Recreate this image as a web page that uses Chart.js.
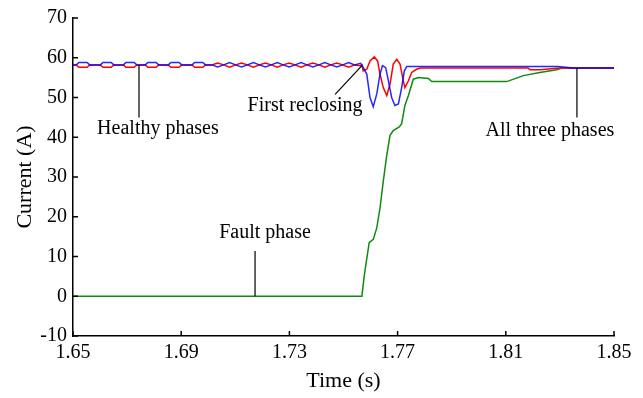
<!DOCTYPE html>
<html>
<head>
<meta charset="utf-8">
<script src="https://cdn.jsdelivr.net/npm/chart.js@4.4.0/dist/chart.umd.min.js"></script>
<style>
  html, body { margin: 0; padding: 0; background: #fff; }
  #wrap { width: 643px; height: 398px; }
</style>
</head>
<body>
<div id="wrap"><canvas id="myChart" width="643" height="398"></canvas></div>
<script>
// tick labels
const xTicks = [1.65, 1.69, 1.73, 1.77, 1.81, 1.85];
const yTicks = [-10, 0, 10, 20, 30, 40, 50, 60, 70];

// healthy phase B (blue)
const blueT = [1.650, 1.6512, 1.6522, 1.6552, 1.6562, 1.6601, 1.6611, 1.6641, 1.6651,
  1.6686, 1.6696, 1.6726, 1.6736, 1.6767, 1.6777, 1.6807, 1.6817, 1.6852, 1.6862, 1.6892, 1.6902,
  1.6940, 1.6950, 1.6980, 1.6990, 1.7013, 1.7035, 1.7057, 1.7079, 1.7101, 1.7123, 1.7145, 1.7167,
  1.7189, 1.7211, 1.7233, 1.7255, 1.7277, 1.7299, 1.7321, 1.7343, 1.7365, 1.7387, 1.7409, 1.7431,
  1.7453, 1.7475, 1.7497, 1.7519, 1.7541, 1.7563,
  1.7568, 1.7586, 1.7598, 1.7610, 1.7623, 1.7635, 1.7644, 1.7656, 1.7666, 1.7678, 1.7690, 1.7703,
  1.7715, 1.7725, 1.7734, 1.8293, 1.8349, 1.850];
const blueI = [58.2, 58.2, 58.8, 58.8, 58.2, 58.2, 58.8, 58.8, 58.2,
  58.2, 58.8, 58.8, 58.2, 58.2, 58.8, 58.8, 58.2, 58.2, 58.8, 58.8, 58.2,
  58.2, 58.8, 58.8, 58.2, 58.2, 57.7, 58.2, 58.8, 58.2, 57.7, 58.2, 58.8,
  58.2, 57.7, 58.2, 58.8, 58.2, 57.7, 58.2, 58.8, 58.2, 57.7, 58.2, 58.8,
  58.2, 57.7, 58.2, 58.8, 58.2, 58.6,
  58.2, 55.9, 50.0, 47.7, 50.9, 55.9, 58.0, 57.5, 54.2, 50.0, 48.0, 48.4,
  52.5, 56.7, 57.8, 57.8, 57.4, 57.4];

// healthy phase C (red)
const redT = [1.650, 1.6512, 1.6522, 1.6552, 1.6562, 1.6601, 1.6611, 1.6641, 1.6651,
  1.6686, 1.6696, 1.6726, 1.6736, 1.6767, 1.6777, 1.6807, 1.6817, 1.6852, 1.6862, 1.6892, 1.6902,
  1.6940, 1.6950, 1.6980, 1.6990, 1.7013, 1.7035, 1.7057, 1.7079, 1.7101, 1.7123, 1.7145, 1.7167,
  1.7189, 1.7211, 1.7233, 1.7255, 1.7277, 1.7299, 1.7321, 1.7343, 1.7365, 1.7387, 1.7409, 1.7431,
  1.7453, 1.7475, 1.7497, 1.7519, 1.7541, 1.7563,
  1.7568, 1.7573, 1.7586, 1.7598, 1.7614, 1.7626, 1.7635, 1.7647, 1.7660, 1.7672, 1.7684, 1.7697,
  1.7709, 1.7721, 1.7727, 1.7740, 1.7752, 1.7770, 1.7783, 1.8182, 1.8190, 1.8227, 1.8300, 1.850];
const redI = [58.2, 58.2, 57.6, 57.6, 58.2, 58.2, 57.6, 57.6, 58.2,
  58.2, 57.6, 57.6, 58.2, 58.2, 57.6, 57.6, 58.2, 58.2, 57.6, 57.6, 58.2,
  58.2, 57.6, 57.6, 58.2, 58.2, 58.7, 58.2, 57.6, 58.2, 58.7, 58.2, 57.6,
  58.2, 58.7, 58.2, 57.6, 58.2, 58.7, 58.2, 57.6, 58.2, 58.7, 58.2, 57.6,
  58.2, 58.7, 58.2, 57.6, 58.2, 58.0,
  58.2, 56.7, 57.1, 59.2, 60.2, 59.2, 55.9, 52.5, 50.5, 53.4, 58.4, 59.6,
  58.4, 54.2, 52.5, 54.2, 56.3, 57.1, 57.4, 57.4, 57.0, 57.0, 57.4, 57.4];

// fault phase A (green)
const greenT = [1.650, 1.7568, 1.7576, 1.7583, 1.7595, 1.7610, 1.7623, 1.7635, 1.7647, 1.7660,
  1.7672, 1.7684, 1.7706, 1.7715, 1.7727, 1.7740, 1.7758, 1.7777, 1.7814, 1.7826, 1.8103,
  1.8165, 1.8226, 1.8288, 1.8307, 1.850];
const greenI = [0, 0, 4.8, 8.1, 13.5, 14.3, 17.2, 22.2, 28.9, 35.5,
  40.5, 41.7, 42.6, 43.4, 48.0, 50.5, 54.6, 55.0, 54.8, 54.0, 54.0,
  55.5, 56.3, 57.0, 57.4, 57.4];

const family = '"Liberation Serif", "Times New Roman", serif';
const font = { family: family, size: 20 };
const titleFont = { family: family, size: 22 };

function pts(t, v) {
  return t.map((x, i) => ({ x: x, y: v[i] }));
}

// inward ticks and annotations
const extras = {
  id: 'extras',
  afterDraw(chart) {
    const c = chart.ctx;
    const xs = chart.scales.x, ys = chart.scales.y;
    const a = chart.chartArea;
    c.save();
    c.strokeStyle = '#000';
    c.lineWidth = 1.5;
    c.beginPath();
    xTicks.forEach(v => {
      const px = xs.getPixelForValue(v);
      c.moveTo(px, a.bottom);
      c.lineTo(px, a.bottom - 5);
    });
    yTicks.forEach(v => {
      const py = ys.getPixelForValue(v);
      c.moveTo(a.left, py);
      c.lineTo(a.left + 5, py);
    });
    c.stroke();

    const X = v => xs.getPixelForValue(v);
    const Y = v => ys.getPixelForValue(v);
    c.lineWidth = 1.2;
    c.beginPath();
    c.moveTo(X(1.6744), Y(58.2)); c.lineTo(X(1.6744), Y(45));
    c.moveTo(X(1.7568), Y(58.0)); c.lineTo(X(1.7469), Y(50.8));
    c.moveTo(X(1.8363), Y(57.4)); c.lineTo(X(1.8363), Y(45));
    c.moveTo(X(1.7173), Y(0)); c.lineTo(X(1.7173), Y(11.4));
    c.stroke();

    c.fillStyle = '#000';
    c.font = font.size + 'px ' + font.family;
    c.textAlign = 'center';
    c.textBaseline = 'middle';
    c.fillText('Healthy phases', X(1.6814), Y(42.1));
    c.fillText('First reclosing', X(1.7358), Y(47.8));
    c.fillText('All three phases', X(1.8263), Y(41.6));
    c.fillText('Fault phase', X(1.7210), Y(15.9));
    c.restore();
  }
};

new Chart(document.getElementById('myChart'), {
  type: 'line',
  data: {
    datasets: [
      { data: pts(blueT, blueI), borderColor: 'rgba(0,0,255,0.85)', borderWidth: 1.5, pointRadius: 0, fill: false, tension: 0 },
      { data: pts(redT, redI), borderColor: '#ff0000', borderWidth: 1.5, pointRadius: 0, fill: false, tension: 0 },
      { data: pts(greenT, greenI), borderColor: '#108a10', borderWidth: 1.5, pointRadius: 0, fill: false, tension: 0 }
    ]
  },
  options: {
    responsive: false,
    animation: false,
    layout: { padding: { top: 15, right: 29, left: 0, bottom: 0 } },
    plugins: { legend: { display: false }, tooltip: { enabled: false } },
    scales: {
      x: {
        type: 'linear',
        min: 1.65,
        max: 1.85,
        afterBuildTicks: s => { s.ticks = xTicks.map(v => ({ value: v })); },
        afterFit: s => { s.height = 62; },
        grid: { display: false, drawTicks: false },
        border: { display: true, color: '#000', width: 1.5 },
        ticks: { color: '#000', font: font, padding: 5, maxRotation: 0, autoSkip: false, callback: v => v.toFixed(2) },
        title: { display: true, text: 'Time (s)', color: '#000', font: titleFont, padding: { top: 0, bottom: 4 } }
      },
      y: {
        min: -10,
        max: 70,
        afterBuildTicks: s => { s.ticks = yTicks.map(v => ({ value: v })); },
        afterFit: s => { s.width = 73; },
        grid: { display: false, drawTicks: false },
        border: { display: true, color: '#000', width: 1.5 },
        ticks: { color: '#000', font: font, padding: 6, autoSkip: false },
        title: { display: true, text: 'Current (A)', color: '#000', font: titleFont, padding: { top: 12, bottom: 0 } }
      }
    }
  },
  plugins: [extras]
});
</script>
</body>
</html>
